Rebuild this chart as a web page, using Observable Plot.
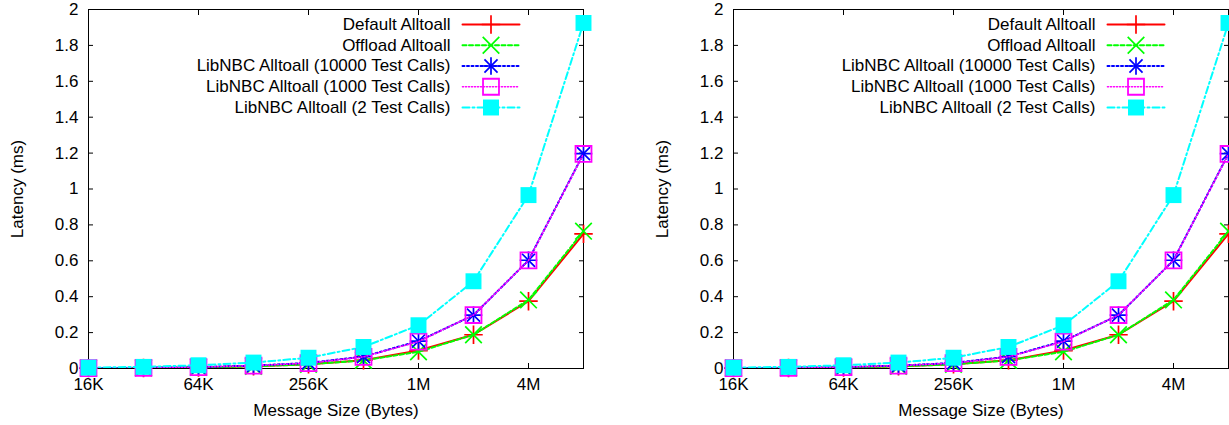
<!DOCTYPE html>
<html>
<head>
<meta charset="utf-8">
<script src="https://cdn.jsdelivr.net/npm/d3@7"></script>
<script src="https://cdn.jsdelivr.net/npm/@observablehq/plot@0.6"></script>
<style>
  html, body { margin: 0; padding: 0; background: white; overflow: hidden; }
  #wrap { display: flex; flex-direction: row; width: 1229px; height: 425px; }
</style>
</head>
<body>
<div id="wrap"></div>
<script>
// ---- data ----
const sizes = [16384, 32768, 65536, 131072, 262144, 524288, 1048576, 2097152, 4194304, 8388608];
const seriesNames = [
  "Default Alltoall",
  "Offload Alltoall",
  "LibNBC Alltoall (10000 Test Calls)",
  "LibNBC Alltoall (1000 Test Calls)",
  "LibNBC Alltoall (2 Test Calls)"
];
const defaultAlltoall = [0.002, 0.003, 0.006, 0.012, 0.024, 0.046, 0.100, 0.188, 0.375, 0.750];
const offloadAlltoall = [0.002, 0.003, 0.006, 0.012, 0.023, 0.045, 0.093, 0.188, 0.382, 0.765];
const libnbc10000 = [0.002, 0.004, 0.008, 0.016, 0.031, 0.066, 0.153, 0.297, 0.603, 1.197];
const libnbc1000 = [0.002, 0.004, 0.008, 0.016, 0.030, 0.065, 0.150, 0.298, 0.602, 1.195];
const libnbc2 = [0.005, 0.009, 0.018, 0.033, 0.060, 0.120, 0.241, 0.486, 0.966, 1.925];
const seriesValues = [defaultAlltoall, offloadAlltoall, libnbc10000, libnbc1000, libnbc2];

const xTicks = [16384, 65536, 262144, 1048576, 4194304];
const xTickLabels = ["16K", "64K", "256K", "1M", "4M"];
const yTicks = [0, 0.2, 0.4, 0.6, 0.8, 1, 1.2, 1.4, 1.6, 1.8, 2];
const yTickLabels = ["0", "0.2", "0.4", "0.6", "0.8", "1", "1.2", "1.4", "1.6", "1.8", "2"];
const xLabel = "Message Size (Bytes)";
const yLabel = "Latency (ms)";

// ---- styles ----
const styles = [
  {color: "#ff0000", width: 2, dash: null, symbols: [{symbol: "plus", r: 6.0}]},
  {color: "#00ff00", width: 2, dash: "4,2.5", symbols: [{symbol: "times", r: 7.6}]},
  {color: "#0000ff", width: 2, dash: "2,2.5", symbols: [{symbol: "plus", r: 5.7}, {symbol: "times", r: 6.0}]},
  {color: "#ff00ff", width: 1.6, dash: "1,2", symbols: [{symbol: "square", r: 9.0, hollow: true}]},
  {color: "#00ffff", width: 2, dash: "7,3,2,3", symbols: [{symbol: "square", r: 9.0, filled: true}]}
];

const table = [];
seriesNames.forEach((name, si) => {
  sizes.forEach((s, i) => table.push({series: name, si, size: s, value: seriesValues[si][i]}));
});

const lineShape = {
  draw(context, l) { context.moveTo(0, 0); context.lineTo(0, -l); }
};

function dotOpts(st, sym) {
  if (sym.filled) return {symbol: sym.symbol, r: sym.r, fill: st.color, stroke: "none"};
  if (sym.hollow) return {symbol: sym.symbol, r: sym.r, fill: "none", stroke: st.color, strokeWidth: 1.8};
  return {symbol: sym.symbol, r: sym.r, fill: "none", stroke: st.color, strokeWidth: 1.7};
}

function panel(width, marginRight) {
  const marks = [];
  // frame and inward ticks
  marks.push(Plot.frame({stroke: "black", strokeWidth: 1}));
  marks.push(Plot.axisX({ticks: xTicks, anchor: "bottom", tickSize: -5, tickFormat: () => "", label: null}));
  marks.push(Plot.axisX({ticks: xTicks, anchor: "top", tickSize: -5, tickFormat: () => "", label: null}));
  marks.push(Plot.axisY({ticks: yTicks, anchor: "left", tickSize: -5, tickFormat: () => "", label: null}));
  marks.push(Plot.axisY({ticks: yTicks, anchor: "right", tickSize: -5, tickFormat: () => "", label: null}));
  // tick labels
  marks.push(Plot.axisX({ticks: xTicks, anchor: "bottom", tickSize: 0, tickPadding: 9, label: null,
    tickFormat: d => xTickLabels[xTicks.indexOf(d)], fill: "black"}));
  marks.push(Plot.axisY({ticks: yTicks, anchor: "left", tickSize: 0, tickPadding: 10, label: null,
    tickFormat: d => yTickLabels[yTicks.findIndex(t => Math.abs(t - d) < 1e-9)], fill: "black"}));
  // axis titles
  marks.push(Plot.text([xLabel], {frameAnchor: "bottom", dy: 42, lineAnchor: "middle", text: d => d, fill: "black"}));
  marks.push(Plot.text([yLabel], {frameAnchor: "left", dx: -71, rotate: -90, lineAnchor: "middle", textAnchor: "middle", text: d => d, fill: "black"}));
  // series
  seriesNames.forEach((name, si) => {
    const st = styles[si];
    const data = table.filter(d => d.si === si);
    marks.push(Plot.line(data, {x: "size", y: "value", stroke: st.color, strokeWidth: st.width,
      strokeDasharray: st.dash, clip: true}));
    st.symbols.forEach(sym => marks.push(Plot.dot(data, {x: "size", y: "value", ...dotOpts(st, sym)})));
  });
  // legend
  seriesNames.forEach((name, si) => {
    const st = styles[si];
    const dy = 15 + si * 20.75;
    marks.push(Plot.text([name], {frameAnchor: "top-right", dx: -133, dy, textAnchor: "end",
      lineAnchor: "middle", text: d => d, fill: "black"}));
    marks.push(Plot.vector([name], {frameAnchor: "top-right", dx: -92.5, dy, length: 57, rotate: 90,
      anchor: "middle", shape: lineShape, stroke: st.color, strokeWidth: st.width, strokeDasharray: st.dash}));
    st.symbols.forEach(sym => marks.push(Plot.dot([name], {frameAnchor: "top-right", dx: -92.5, dy, ...dotOpts(st, sym)})));
  });
  return Plot.plot({
    width, height: 425,
    marginLeft: 88, marginRight, marginTop: 9, marginBottom: 57,
    style: {fontFamily: "'Liberation Sans', Arial, sans-serif", fontSize: "17px", maxWidth: "none", overflow: "visible", background: "white", color: "black"},
    x: {type: "log", base: 2, domain: [sizes[0], sizes[sizes.length - 1]], axis: null},
    y: {domain: [0, 2], axis: null},
    marks
  });
}

const wrap = document.getElementById("wrap");
wrap.appendChild(panel(645, 62));
wrap.appendChild(panel(584, 1));
</script>
</body>
</html>
